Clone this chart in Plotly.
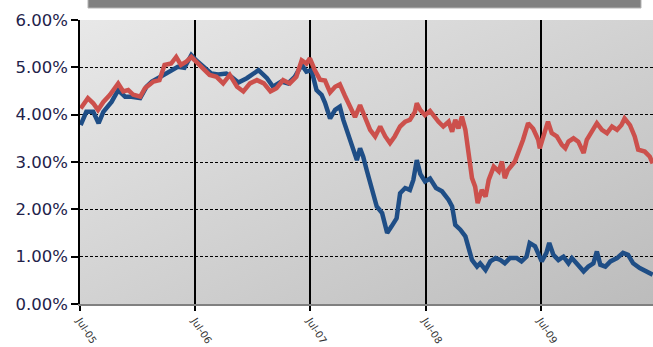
import base64
import plotly.graph_objects as go

# ---------------- data ----------------
blue_name = "2-Year Treasury"
blue_dates = ["2005-07-03", "2005-07-21", "2005-08-12", "2005-08-29", "2005-09-13", "2005-10-09", "2005-10-30",
              "2005-11-21", "2005-12-11", "2006-01-08", "2006-01-28", "2006-02-14", "2006-03-05", "2006-03-31",
              "2006-04-16", "2006-05-07", "2006-05-28", "2006-06-19", "2006-07-04", "2006-07-31", "2006-08-21",
              "2006-09-12", "2006-10-08", "2006-10-24", "2006-11-15", "2006-12-12", "2007-01-18", "2007-02-14",
              "2007-03-05", "2007-04-01", "2007-04-22", "2007-05-13", "2007-06-04", "2007-06-19", "2007-07-05",
              "2007-07-21", "2007-08-06", "2007-08-17", "2007-09-02", "2007-09-18", "2007-10-03", "2007-10-14",
              "2007-10-29", "2007-11-15", "2007-11-26", "2007-12-06", "2007-12-16", "2007-12-27", "2008-01-13",
              "2008-01-28", "2008-02-14", "2008-03-01", "2008-03-15", "2008-03-31", "2008-04-11", "2008-04-27",
              "2008-05-12", "2008-05-23", "2008-06-03", "2008-06-14", "2008-06-29", "2008-07-15", "2008-08-03",
              "2008-08-22", "2008-09-12", "2008-09-23", "2008-10-03", "2008-10-19", "2008-11-04", "2008-11-15",
              "2008-11-25", "2008-12-11", "2008-12-21", "2009-01-07", "2009-01-22", "2009-02-08", "2009-02-23",
              "2009-03-09", "2009-03-25", "2009-04-16", "2009-05-01", "2009-05-17", "2009-05-27", "2009-06-13",
              "2009-07-04", "2009-07-19", "2009-07-28", "2009-08-10", "2009-08-26", "2009-09-11", "2009-09-27",
              "2009-10-08", "2009-10-28", "2009-11-14", "2009-11-29", "2009-12-15", "2009-12-26", "2010-01-06",
              "2010-01-22", "2010-02-07", "2010-02-28", "2010-03-19", "2010-04-04", "2010-04-20", "2010-05-11",
              "2010-06-02", "2010-06-21"]
blue_vals = [3.78, 4.06, 4.06, 3.82, 4.06, 4.27, 4.52,
             4.38, 4.38, 4.35, 4.59, 4.70, 4.77, 4.87,
             4.91, 5.01, 4.99, 5.26, 5.15, 4.98, 4.87,
             4.85, 4.87, 4.80, 4.68, 4.77, 4.94, 4.77,
             4.59, 4.70, 4.66, 4.80, 5.05, 4.91, 4.94,
             4.52, 4.42, 4.25, 3.92, 4.10, 4.17, 3.89,
             3.61, 3.26, 3.04, 3.29, 3.11, 2.83, 2.41,
             2.06, 1.92, 1.50, 1.64, 1.81, 2.34, 2.45,
             2.41, 2.62, 3.04, 2.75, 2.59, 2.65, 2.45,
             2.38, 2.20, 2.06, 1.67, 1.57, 1.43, 1.15,
             0.93, 0.79, 0.86, 0.72, 0.90, 0.97, 0.93,
             0.86, 0.97, 0.97, 0.90, 1.00, 1.29, 1.22,
             0.90, 1.08, 1.29, 1.04, 0.93, 1.00, 0.86,
             0.97, 0.83, 0.69, 0.79, 0.86, 1.11, 0.83,
             0.79, 0.90, 0.97, 1.08, 1.04, 0.86, 0.76,
             0.69, 0.62]

red_name = "10-Year Treasury"
red_dates = ["2005-07-03", "2005-07-26", "2005-08-12", "2005-08-27", "2005-09-13", "2005-10-04", "2005-10-30",
             "2005-11-15", "2005-12-01", "2005-12-17", "2006-01-08", "2006-01-23", "2006-02-19", "2006-03-10",
             "2006-03-26", "2006-04-16", "2006-05-02", "2006-05-17", "2006-06-03", "2006-06-19", "2006-07-04",
             "2006-07-25", "2006-08-16", "2006-09-07", "2006-09-28", "2006-10-19", "2006-11-11", "2006-12-01",
             "2006-12-22", "2007-01-13", "2007-02-04", "2007-02-25", "2007-03-16", "2007-04-06", "2007-04-27",
             "2007-05-18", "2007-06-04", "2007-06-19", "2007-06-30", "2007-07-15", "2007-08-01", "2007-08-17",
             "2007-09-02", "2007-09-18", "2007-10-03", "2007-10-19", "2007-11-05", "2007-11-20", "2007-12-06",
             "2007-12-22", "2008-01-07", "2008-01-23", "2008-02-08", "2008-02-24", "2008-03-10", "2008-03-25",
             "2008-04-11", "2008-04-27", "2008-05-12", "2008-05-28", "2008-06-03", "2008-06-14", "2008-06-29",
             "2008-07-15", "2008-07-31", "2008-08-11", "2008-08-26", "2008-09-12", "2008-09-23", "2008-10-03",
             "2008-10-13", "2008-10-24", "2008-11-04", "2008-11-15", "2008-11-25", "2008-12-05", "2008-12-13",
             "2008-12-26", "2009-01-07", "2009-01-17", "2009-02-02", "2009-02-18", "2009-02-28", "2009-03-09",
             "2009-03-19", "2009-04-10", "2009-04-26", "2009-05-06", "2009-05-22", "2009-06-07", "2009-06-23",
             "2009-06-28", "2009-07-14", "2009-07-24", "2009-08-05", "2009-08-21", "2009-09-06", "2009-09-17",
             "2009-09-27", "2009-10-13", "2009-10-28", "2009-11-14", "2009-11-24", "2009-12-10", "2009-12-26",
             "2010-01-11", "2010-01-27", "2010-02-12", "2010-02-28", "2010-03-14", "2010-03-24", "2010-04-10",
             "2010-04-25", "2010-05-06", "2010-05-27", "2010-06-12", "2010-06-21"]
red_vals = [4.13, 4.35, 4.24, 4.10, 4.27, 4.42, 4.66,
            4.49, 4.52, 4.42, 4.38, 4.56, 4.70, 4.73,
            5.05, 5.08, 5.22, 5.05, 5.12, 5.22, 5.12,
            4.98, 4.84, 4.80, 4.66, 4.84, 4.59, 4.49,
            4.66, 4.73, 4.66, 4.49, 4.56, 4.73, 4.66,
            4.80, 5.15, 5.08, 5.19, 4.95, 4.74, 4.72,
            4.47, 4.59, 4.64, 4.40, 4.13, 3.95, 4.20,
            3.96, 3.68, 3.54, 3.75, 3.54, 3.40, 3.54,
            3.75, 3.85, 3.89, 4.06, 4.24, 4.10, 3.99,
            4.08, 3.92, 3.85, 3.75, 3.85, 3.64, 3.89,
            3.71, 3.96, 3.68, 3.11, 2.66, 2.48, 2.13,
            2.41, 2.27, 2.62, 2.90, 2.80, 3.01, 2.66,
            2.83, 3.01, 3.26, 3.47, 3.82, 3.70, 3.47,
            3.29, 3.64, 3.85, 3.61, 3.54, 3.36, 3.29,
            3.43, 3.50, 3.43, 3.19, 3.47, 3.64, 3.82,
            3.68, 3.61, 3.75, 3.68, 3.78, 3.92, 3.78,
            3.54, 3.26, 3.22, 3.11, 2.97]

x_tick_dates = ["2005-07-01", "2006-07-01", "2007-07-01", "2008-07-01", "2009-07-01"]
x_tick_labels = ["Jul-05", "Jul-06", "Jul-07", "Jul-08", "Jul-09"]
y_tick_vals = [0, 1, 2, 3, 4, 5, 6]
y_tick_labels = ["0.00%", "1.00%", "2.00%", "3.00%", "4.00%", "5.00%", "6.00%"]
header_texts = ["10-Year Treasury (LHS)", "2-Year Treasury (LHS)", "Spread, basis points (RHS)"]

# ---------------- figure ----------------
W, H = 653, 347
ML, MR, MT, MB = 80, 0, 20, 43
plot_w = W - ML - MR
plot_h = H - MT - MB

svg = ('<svg xmlns="http://www.w3.org/2000/svg" width="200" height="200" preserveAspectRatio="none">'
       '<defs><linearGradient id="g" x1="0" y1="0" x2="1" y2="1">'
       '<stop offset="0" stop-color="#e8e8e8"/><stop offset="1" stop-color="#bcbcbc"/>'
       '</linearGradient></defs><rect width="200" height="200" fill="url(#g)"/></svg>')
bg_src = "data:image/svg+xml;base64," + base64.b64encode(svg.encode()).decode()

fig = go.Figure()
fig.add_trace(go.Scatter(x=blue_dates, y=blue_vals, name=blue_name, mode="lines",
                         line=dict(color="#1F4E86", width=4.5)))
fig.add_trace(go.Scatter(x=red_dates, y=red_vals, name=red_name, mode="lines",
                         line=dict(color="#CC504C", width=4.5)))

fig.update_layout(
    width=W, height=H,
    margin=dict(l=ML, r=MR, t=MT, b=MB, pad=0),
    paper_bgcolor="white",
    plot_bgcolor="rgba(0,0,0,0)",
    showlegend=False,
    font=dict(family="DejaVu Sans", color="#222"),
    images=[dict(source=bg_src, xref="paper", yref="paper", x=0, y=1, sizex=1, sizey=1,
                 sizing="stretch", layer="below", xanchor="left", yanchor="top")],
    xaxis=dict(
        type="date",
        range=["2005-07-01", "2010-06-22"],
        tickvals=x_tick_dates, ticktext=x_tick_labels,
        tickangle=57,
        tickfont=dict(size=10, color="#333", family="DejaVu Sans"),
        ticks="outside", ticklen=5, tickcolor="black", tickwidth=1.5,
        showgrid=True, gridcolor="black", gridwidth=1.5,
        showline=True, linecolor="#808080", linewidth=2,
        zeroline=False,
    ),
    yaxis=dict(
        range=[0, 6],
        tickvals=y_tick_vals, ticktext=y_tick_labels,
        tickfont=dict(size=16.5, color="#22224a", family="DejaVu Sans"),
        ticks="outside", ticklen=7, tickcolor="black", tickwidth=1.5,
        showgrid=True, gridcolor="black", gridwidth=1.2, griddash="3px,2px",
        showline=True, linecolor="black", linewidth=1.5,
        zeroline=False,
    ),
)

# header (legend box) cut off at the top of the picture
def px_x(px):
    return (px - ML) / plot_w

def px_y(py):
    return 1 + (MT - py) / plot_h

fig.add_shape(type="rect", xref="paper", yref="paper",
              x0=px_x(88), x1=px_x(641), y0=px_y(8), y1=px_y(-30),
              fillcolor="#808080", line=dict(color="#b4b4b4", width=1), layer="above")
for txt, rx in zip(header_texts, [195, 336, 638]):
    fig.add_annotation(text=txt, xref="paper", yref="paper", x=px_x(rx), y=px_y(2.5),
                       xanchor="right", yanchor="bottom", showarrow=False,
                       font=dict(size=12, color="white", family="DejaVu Sans"))

fig.write_html("out.html")
